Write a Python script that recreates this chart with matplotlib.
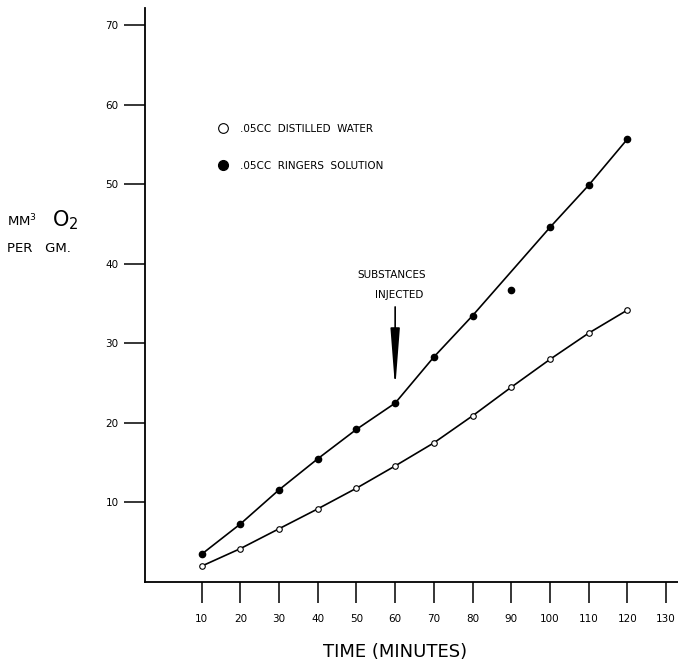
import numpy as np
import matplotlib
matplotlib.use("Agg")
import matplotlib.pyplot as plt
from matplotlib.lines import Line2D

plt.rcParams['font.family'] = ['DejaVu Sans']
plt.rcParams['mathtext.default'] = 'regular'

# dados
tempo = [10, 20, 30, 40, 50, 60, 70, 80, 90, 100, 110, 120]
agua_destilada = [2.0, 4.2, 6.7, 9.2, 11.8, 14.6, 17.5, 20.9, 24.5, 28.0, 31.3, 34.2]
ringer = [3.5, 7.3, 11.6, 15.5, 19.2, 22.5, 28.3, 33.5, 36.7, 44.6, 49.9, 55.7]
# ponto fora da reta (90 min) nao entra na linha
fora_da_reta = [90]

xticks = [10, 20, 30, 40, 50, 60, 70, 80, 90, 100, 110, 120, 130]
yticks = [10, 20, 30, 40, 50, 60, 70]

fig = plt.figure(figsize=(6.78, 6.66), dpi=100)
ax = fig.add_axes([145 / 678, 84 / 666, 533 / 678, 574 / 666])

# linha da agua destilada
ax.plot(tempo, agua_destilada, color='black', lw=1.2, zorder=2)
ax.plot(tempo, agua_destilada, 'o', ms=4, mfc='white', mec='black', mew=0.8, zorder=3)

# linha do ringer (sem o ponto de 90 min)
t_linha = [t for t in tempo if t not in fora_da_reta]
r_linha = [r for t, r in zip(tempo, ringer) if t not in fora_da_reta]
ax.plot(t_linha, r_linha, color='black', lw=1.2, zorder=2)
ax.plot(tempo, ringer, 'o', ms=4.5, color='black', zorder=3)

ax.set_xlim(-4.65, 133.1)
ax.set_ylim(0, 72.2)
ax.set_xticks(xticks)
ax.set_yticks(yticks)
ax.tick_params(axis='both', direction='out', length=15, width=1.1, labelsize=7.5)
ax.tick_params(axis='y', pad=4)
ax.tick_params(axis='x', pad=8)
for s in ['top', 'right']:
    ax.spines[s].set_visible(False)
for s in ['left', 'bottom']:
    ax.spines[s].set_linewidth(1.3)

# legenda
handles = [
    Line2D([], [], ls='none', marker='o', ms=7, mfc='white', mec='black', mew=0.8),
    Line2D([], [], ls='none', marker='o', ms=7, color='black'),
]
labels = ['.05CC  DISTILLED  WATER', '.05CC  RINGERS  SOLUTION']
ax.legend(handles, labels, loc='upper left', bbox_to_anchor=(0.136, 0.798),
          frameon=False, fontsize=7.5, handlelength=1.0, handletextpad=1.2,
          labelspacing=2.6, borderpad=0, borderaxespad=0)

# seta da injecao
ax.text(59.0, 38.6, 'SUBSTANCES', ha='center', va='center', fontsize=7.5)
ax.text(61.0, 36.1, 'INJECTED', ha='center', va='center', fontsize=7.5)
ax.annotate('', xy=(60, 24.3), xytext=(60, 34.6),
            arrowprops=dict(arrowstyle='-|>,head_length=3.6,head_width=0.28',
                            color='black', lw=1.2, mutation_scale=10,
                            shrinkA=0, shrinkB=0))

# rotulos dos eixos
fig.text(7 / 678, 1 - 221 / 666, 'MM$^3$', fontsize=9.5, va='center', ha='left')
fig.text(52 / 678, 1 - 220 / 666, 'O$_2$', fontsize=15, va='center', ha='left')
fig.text(7 / 678, 1 - 249 / 666, 'PER   GM.', fontsize=9.5, va='center', ha='left')
fig.text(395 / 678, 1 - 652 / 666, 'TIME (MINUTES)', fontsize=13, va='center', ha='center')

fig.savefig('out.png', dpi=100)
